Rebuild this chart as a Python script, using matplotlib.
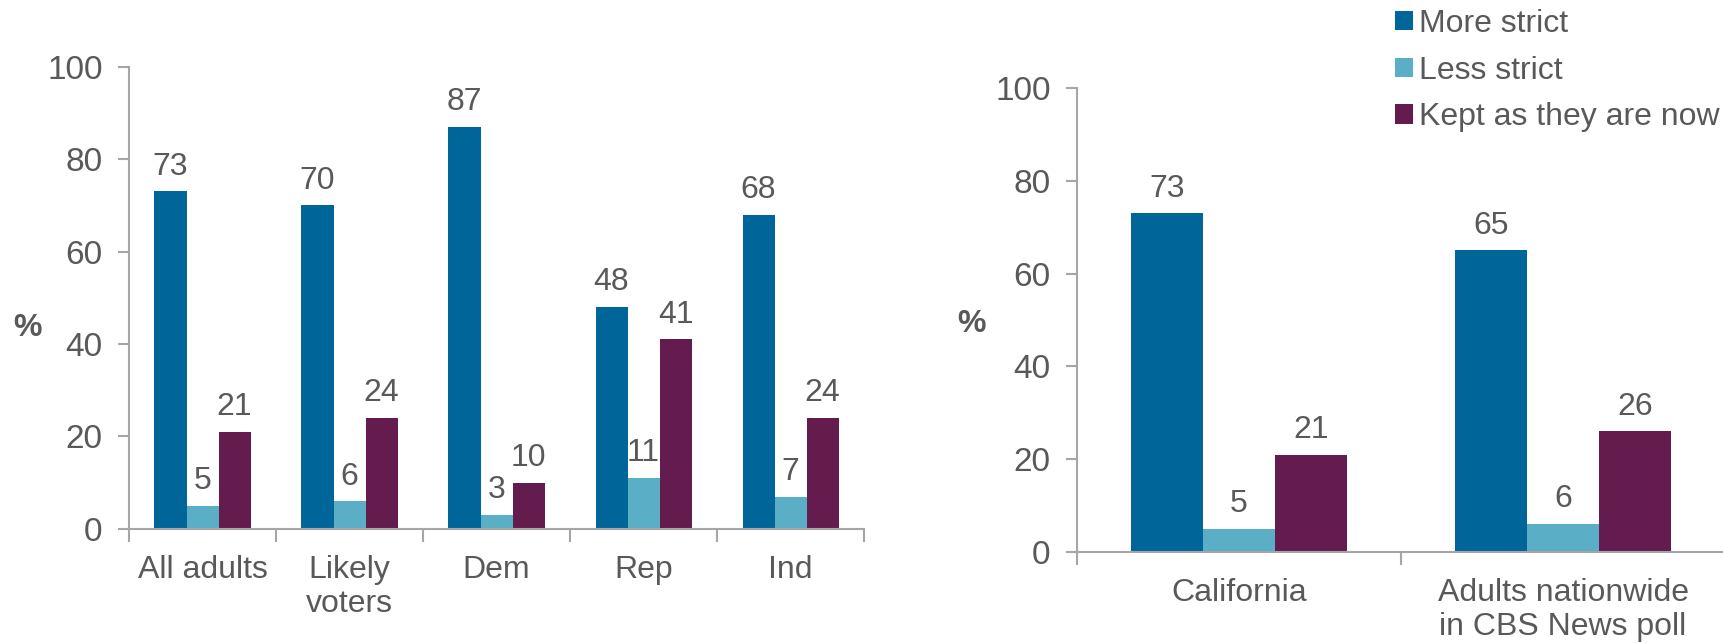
import matplotlib
matplotlib.use("Agg")
import matplotlib.pyplot as plt
import numpy as np

plt.rcParams['font.family'] = ['Liberation Sans', 'DejaVu Sans']

# data
series = ['More strict', 'Less strict', 'Kept as they are now']
colors = ['#006699', '#5aaec6', '#641b4e']

left_cats = ['All adults', 'Likely\nvoters', 'Dem', 'Rep', 'Ind']
left_more = [73, 70, 87, 48, 68]
left_less = [5, 6, 3, 11, 7]
left_kept = [21, 24, 10, 41, 24]

right_cats = ['California', 'Adults nationwide\nin CBS News poll']
right_more = [73, 65]
right_less = [5, 6]
right_kept = [21, 26]

TXT = '#595959'
AXC = '#a6a6a6'
FS = 23


def draw_panel(ax, cats, vals, width):
    n = len(cats)
    x = np.arange(n) + 0.5
    bars = []
    for k, (v, c) in enumerate(zip(vals, colors)):
        b = ax.bar(x + (k - 1) * width, v, width, color=c, label=series[k])
        bars.append(b)
        for rect, val in zip(b, v):
            ax.annotate(str(val), (rect.get_x() + rect.get_width() / 2, val),
                        xytext=(0, 7), textcoords='offset points',
                        ha='center', va='bottom', fontsize=FS, color=TXT)
    ax.set_xlim(0, n)
    ax.set_ylim(0, 100)
    ax.set_yticks([0, 20, 40, 60, 80, 100])
    ax.set_xticks(np.arange(n + 1))
    ax.set_xticklabels([])
    ax.set_xticks(x, minor=True)
    ax.set_xticklabels(cats, minor=True, fontsize=FS, color=TXT, linespacing=1.15)
    ax.tick_params(axis='x', which='minor', length=0, pad=19)
    ax.tick_params(axis='x', which='major', length=9, width=1.5, color=AXC, direction='out')
    ax.tick_params(axis='y', length=8, width=1.5, color=AXC, labelsize=FS + 1,
                   labelcolor=TXT, pad=11)
    for s in ['top', 'right']:
        ax.spines[s].set_visible(False)
    for s in ['left', 'bottom']:
        ax.spines[s].set_color(AXC)
        ax.spines[s].set_linewidth(1.5)
    return bars


fig = plt.figure(figsize=(17.23, 6.44), dpi=100)

ax1 = fig.add_axes([0.0749, 0.1786, 0.4266, 0.7181])
draw_panel(ax1, left_cats, [left_more, left_less, left_kept], 0.218)

ax2 = fig.add_axes([0.6251, 0.1429, 0.3761, 0.7205])
draw_panel(ax2, right_cats, [right_more, right_less, right_kept], 0.222)

fig.text(28 / 1723, 1 - 328 / 644, '%', fontsize=FS, color=TXT, fontweight='bold',
         ha='center', va='center')
fig.text(972 / 1723, 1 - 324 / 644, '%', fontsize=FS, color=TXT, fontweight='bold',
         ha='center', va='center')

handles, labels = ax2.get_legend_handles_labels()
fig.legend(handles, labels, loc='upper left', bbox_to_anchor=(1395 / 1723, 1 - 9 / 644),
           frameon=False, fontsize=FS, labelcolor=TXT, handlelength=0.55,
           handleheight=0.55, handletextpad=0.2, labelspacing=0.52, borderpad=0,
           borderaxespad=0)

fig.savefig('out.png', dpi=100)
